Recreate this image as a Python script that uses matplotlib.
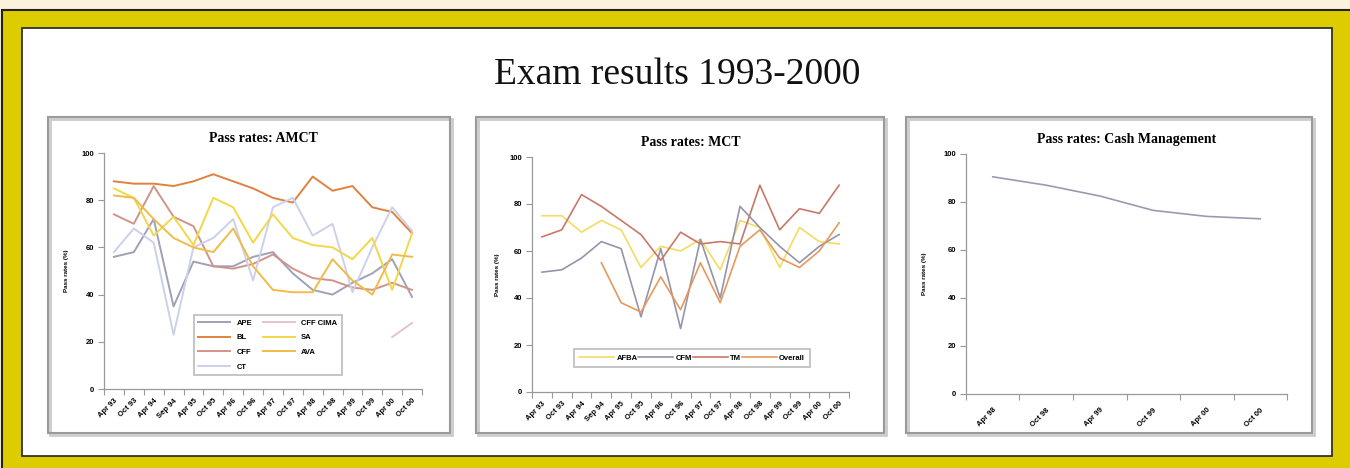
import numpy as np
import matplotlib
matplotlib.use("Agg")
import matplotlib.pyplot as plt
from matplotlib.patches import Rectangle

W, H = 1350, 468
nan = np.nan

# AMCT data
amct_labels = ["Apr 93", "Oct 93", "Apr 94", "Sep 94", "Apr 95", "Oct 95", "Apr 96", "Oct 96",
               "Apr 97", "Oct 97", "Apr 98", "Oct 98", "Apr 99", "Oct 99", "Apr 00", "Oct 00"]
ape = [56, 58, 72, 35, 54, 52, 52, 56, 58, 49, 42, 40, 45, 49, 55, 39]
bl = [88, 87, 87, 86, 88, 91, 88, 85, 81, 79, 90, 84, 86, 77, 75, 66]
cff = [74, 70, 86, 73, 69, 52, 51, 53, 57, 51, 47, 46, 43, 42, 45, 42]
ct = [58, 68, 62, 23, 60, 64, 72, 46, 77, 81, 65, 70, 41, 60, 77, 67]
cff_cima = [nan] * 14 + [22, 28]
sa = [85, 81, 65, 73, 61, 81, 77, 62, 74, 64, 61, 60, 55, 64, 42, 66]
ava = [82, 81, 72, 64, 60, 58, 68, 52, 42, 41, 41, 55, 46, 40, 57, 56]

# MCT data
mct_labels = amct_labels
afba = [75, 75, 68, 73, 69, 53, 62, 60, 65, 52, 73, 70, 53, 70, 64, 63]
cfm = [51, 52, 57, 64, 61, 32, 61, 27, 65, 40, 79, 70, 62, 55, 62, 67]
tm = [66, 69, 84, 79, 73, 67, 56, 68, 63, 64, 63, 88, 69, 78, 76, 88]
overall = [nan, nan, nan, 55, 38, 34, 49, 35, 55, 38, 62, 69, 57, 53, 60, 72]

# Cash Management data
cash_labels = ["Apr 98", "Oct 98", "Apr 99", "Oct 99", "Apr 00", "Oct 00"]
cash = [90.5, 87, 82.5, 76.5, 74, 73]


def px_rect(x0, y0, x1, y1):
    # pixel box (top-left origin) -> figure fraction [l, b, w, h]
    return [x0 / W, 1 - y1 / H, (x1 - x0) / W, (y1 - y0) / H]


fig = plt.figure(figsize=(W / 100, H / 100), dpi=100)
fig.patch.set_facecolor("#FBF1DC")

def frame(x0, y0, x1, y1, fc, ec, lw, z):
    l, b, w, h = px_rect(x0, y0, x1, y1)
    fig.patches.append(Rectangle((l, b), w, h, transform=fig.transFigure,
                                 facecolor=fc, edgecolor=ec, lw=lw, zorder=z))

# background frames, kept below the axes
frame(2, 10, 1352, 470, "#DDCC00", "#222222", 1.5, -5)
frame(22, 28, 1332, 456, "white", "#222222", 1.2, -4)
for x0, x1 in [(48, 450), (476, 884), (906, 1312)]:
    frame(x0 + 2, 119, x1 + 2, 435, "none", "#cccccc", 2.0, -3)
    frame(x0, 117, x1, 433, "none", "#9a9a9a", 1.5, -2)

fig.text(677 / W, 1 - 75 / H, "Exam results 1993-2000", ha="center", va="center",
         fontsize=27, family="Liberation Serif", color="#111111")

TICKFONT = {"family": "Liberation Sans", "weight": "bold", "size": 5.5}


def setup(ax, labels, title, ylab_x):
    n = len(labels)
    ax.set_xlim(-0.5, n - 0.5)
    ax.set_ylim(0, 100)
    ax.set_xticks(range(n))
    ax.set_xticklabels(labels, rotation=45, ha="right", rotation_mode="anchor", **TICKFONT)
    ax.set_yticks(range(0, 101, 20))
    ax.set_yticklabels([str(v) for v in range(0, 101, 20)], **TICKFONT)
    ax.set_xticks(np.arange(-0.5, n), minor=True)
    ax.tick_params(axis="x", which="major", length=0, pad=6)
    ax.tick_params(axis="x", which="minor", length=4, color="#999999", width=0.8)
    ax.tick_params(axis="y", length=4, color="#999999", width=0.8, pad=3)
    for s in ["top", "right"]:
        ax.spines[s].set_visible(False)
    for s in ["left", "bottom"]:
        ax.spines[s].set_color("#999999")
        ax.spines[s].set_linewidth(0.9)
    ax.set_title(title, fontsize=10, family="Liberation Serif", fontweight="bold", pad=8)
    ax.set_ylabel("Pass rates (%)", fontsize=4.5, family="Liberation Sans", fontweight="bold")
    ax.yaxis.set_label_coords(ylab_x, 0.5)
    ax.set_facecolor("none")


# Chart 1: AMCT
ax1 = fig.add_axes(px_rect(104, 153, 422, 389))
x = np.arange(len(amct_labels))
lw = 1.4
ax1.plot(x, ape, color="#A0A0B8", lw=lw, label="APE")
ax1.plot(x, bl, color="#E0823F", lw=lw, label="BL")
ax1.plot(x, cff, color="#D0948A", lw=lw, label="CFF")
ax1.plot(x, ct, color="#CDD0EA", lw=lw, label="CT")
ax1.plot(x, cff_cima, color="#E4C4CC", lw=lw, label="CFF CIMA")
ax1.plot(x, sa, color="#F2D848", lw=lw, label="SA")
ax1.plot(x, ava, color="#F0BC48", lw=lw, label="AVA")
setup(ax1, amct_labels, "Pass rates: AMCT", -0.11)
leg = ax1.legend(ncol=2, loc="lower left", bbox_to_anchor=(0.27, 0.042, 0.49, 0.26),
                 mode="expand", frameon=True, fancybox=False, handlelength=4.2,
                 borderpad=0.6, labelspacing=0.95, handletextpad=0.8, columnspacing=1.5,
                 prop={"family": "Liberation Sans", "weight": "bold", "size": 5.5})
leg.get_frame().set_edgecolor("#aaaaaa")
leg.get_frame().set_linewidth(1.2)

# Chart 2: MCT
ax2 = fig.add_axes(px_rect(532, 157, 849, 392))
x = np.arange(len(mct_labels))
lw = 1.2
ax2.plot(x, afba, color="#F2DC62", lw=lw, label="AFBA")
ax2.plot(x, cfm, color="#9494AC", lw=lw, label="CFM")
ax2.plot(x, tm, color="#C8786A", lw=lw, label="TM")
ax2.plot(x, overall, color="#E8985A", lw=lw, label="Overall")
setup(ax2, mct_labels, "Pass rates: MCT", -0.1)
leg = ax2.legend(ncol=4, loc="lower left", bbox_to_anchor=(0.12, 0.09, 0.77, 0.09),
                 mode="expand", frameon=True, fancybox=False, handlelength=4.6,
                 borderpad=0.7, handletextpad=0.3, columnspacing=0.8,
                 prop={"family": "Liberation Sans", "weight": "bold", "size": 5.5})
leg.get_frame().set_edgecolor("#aaaaaa")
leg.get_frame().set_linewidth(1.2)

# Chart 3: Cash Management
ax3 = fig.add_axes(px_rect(966, 154, 1287, 394))
x = np.arange(len(cash_labels))
ax3.plot(x, cash, color="#9A9AB2", lw=1.2)
setup(ax3, cash_labels, "Pass rates: Cash Management", -0.12)
ax3.tick_params(axis="x", which="major", pad=9)

fig.savefig("out.png", dpi=100)
